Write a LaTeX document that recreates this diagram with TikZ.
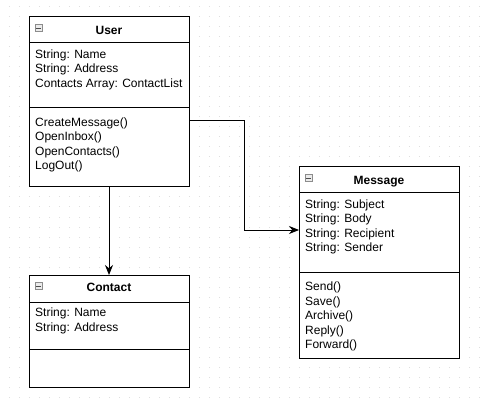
\documentclass[tikz,border=0pt]{standalone}
\usepackage{fontspec}
\setmainfont{Liberation Sans}
\usetikzlibrary{arrows.meta}
\begin{document}
\begin{tikzpicture}[x=1pt,y=-1pt,
  classbox/.style={draw=black,line width=1pt,fill=white,minimum width=160pt,inner sep=0pt,outer sep=0pt},
  member/.style={anchor=base west,inner sep=0pt,font=\fontsize{12}{14}\selectfont},
  ctitle/.style={anchor=base,inner sep=0pt,font=\fontsize{12}{14}\selectfont\bfseries},
  divider/.style={line width=1pt},
  arr/.style={line width=1pt,-{Stealth[length=10pt,width=8pt]}},
  icon/.style={draw=black!45,fill=black!8,line width=0.6pt,minimum size=7pt,inner sep=0pt}
]
\useasboundingbox (0,0) rectangle (487,406);
\fill[white] (0,0) rectangle (487,406);
% dotted grid
\foreach \gx in {9,19,...,479}{
  \foreach \gy in {7,17,...,399}{
    \fill[black!13] (\gx-0.5,\gy-0.5) rectangle (\gx+0.5,\gy+0.5);
  }
}
% User
\node[classbox,minimum height=170pt] (user) at (109,102) {};
\draw[divider] (29,43) -- (189,43);
\draw[divider] (29,108) -- (189,108);
\node[icon] (ui) at (38.5,28) {};
\draw[black!70,line width=0.8pt] (ui.west) ++(1.5,0) -- ([xshift=-1.5pt]ui.east);
\node[ctitle] (ut) at (109,34.3) {User};
\node[member] (u1) at (35,58.5) {String: Name};
\node[member] (u2) at (35,73) {String: Address};
\node[member] (u3) at (35,87.5) {Contacts Array: ContactList};
\node[member] (u4) at (35,126.5) {CreateMessage()};
\node[member] (u5) at (35,141) {OpenInbox()};
\node[member] (u6) at (35,155.5) {OpenContacts()};
\node[member] (u7) at (35,170) {LogOut()};
% Message
\node[classbox,minimum height=191pt] (msg) at (379,262.5) {};
\draw[divider] (299,193) -- (459,193);
\draw[divider] (299,272) -- (459,272);
\node[icon] (mi) at (308.5,178) {};
\draw[black!70,line width=0.8pt] (mi.west) ++(1.5,0) -- ([xshift=-1.5pt]mi.east);
\node[ctitle] (mt) at (379,185) {Message};
\node[member] (m1) at (305,208.3) {String: Subject};
\node[member] (m2) at (305,222.8) {String: Body};
\node[member] (m3) at (305,237.3) {String: Recipient};
\node[member] (m4) at (305,251.8) {String: Sender};
\node[member] (m5) at (305,290.7) {Send()};
\node[member] (m6) at (305,305.2) {Save()};
\node[member] (m7) at (305,319.7) {Archive()};
\node[member] (m8) at (305,334.2) {Reply()};
\node[member] (m9) at (305,348.7) {Forward()};
% Contact
\node[classbox,minimum height=112pt] (contact) at (109,331) {};
\draw[divider] (29,302) -- (189,302);
\draw[divider] (29,349) -- (189,349);
\node[icon] (ci) at (38.5,286) {};
\draw[black!70,line width=0.8pt] (ci.west) ++(1.5,0) -- ([xshift=-1.5pt]ci.east);
\node[ctitle] (ct) at (109,291.7) {Contact};
\node[member] (c1) at (35,316.7) {String: Name};
\node[member] (c2) at (35,331.2) {String: Address};
% connectors
\draw[arr] (user.south) -- (contact.north);
\draw[arr] ([yshift=-19pt]user.east) -- ++(55,0) |- ([yshift=32.5pt]msg.west);
\end{tikzpicture}
\end{document}
